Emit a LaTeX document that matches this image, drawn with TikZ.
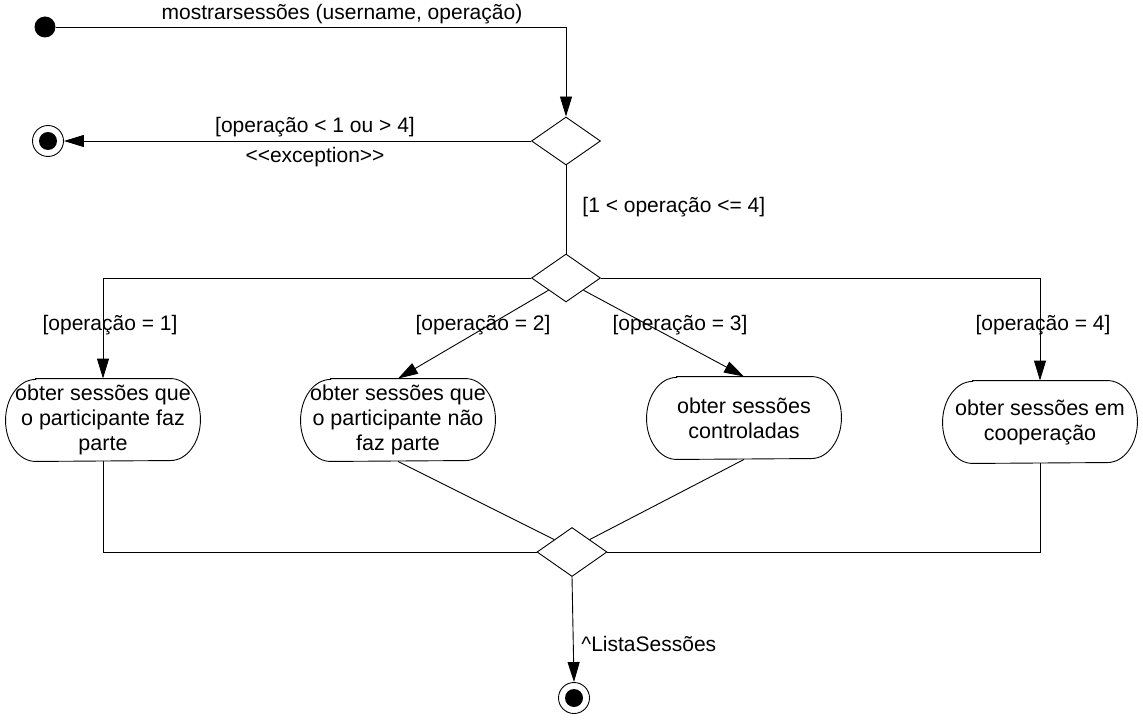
\documentclass[tikz,border=0pt]{standalone}
\usepackage{fontspec}
\setmainfont{Liberation Sans}
\usetikzlibrary{shapes.geometric,arrows.meta,calc}
\begin{document}
\begin{tikzpicture}[x=1pt,y=-1pt,
  font=\fontsize{21}{25}\selectfont,
  line width=0.9pt,
  dec/.style={diamond, draw, inner sep=0pt, minimum width=69pt, minimum height=48pt},
  act/.style={align=center, inner sep=0pt, minimum width=194pt, minimum height=82pt,
    font=\fontsize{21.5}{25}\selectfont},
  actborder/.style={draw},
  arr/.style={-{Triangle[length=20pt,width=12pt]}},
  initial/.style={circle, fill, minimum size=21pt, inner sep=0pt},
  final/.style={circle, draw, minimum size=31pt, inner sep=0pt,
    path picture={\fill (path picture bounding box.center) circle (9pt);}},
  lbl/.style={inner sep=0pt}
]
\useasboundingbox (0,0) rectangle (1143,722);
\node[initial] (s) at (45,27) {};
\coordinate (c1) at (566,27);
\node[dec] (d1) at (566,141) {};
\node[final] (f1) at (48,141) {};
\node[dec] (d2) at (566,278) {};
\coordinate (c2) at (103,278);
\coordinate (c3) at (1040,278);
\node[act] (a1) at (103,420) {obter sessões que\\o participante faz\\parte};
\node[act] (a2) at (398,420) {obter sessões que\\o participante não\\faz parte};
\node[act] (a3) at (744,418) {obter sessões\\controladas};
\node[act] (a4) at (1040,422) {obter sessões em\\cooperação};
\foreach \n in {a1,a2,a3,a4}
  \draw[actborder] ([xshift=30pt]\n.north west) -- ([xshift=-30pt]\n.north east)
    arc[start angle=90, end angle=-90, x radius=30pt, y radius=41pt]
    -- ([xshift=30pt]\n.south west)
    arc[start angle=270, end angle=90, x radius=30pt, y radius=41pt] -- cycle;
\node[dec, minimum width=70pt, minimum height=49pt] (d3) at (572,552) {};
\coordinate (c4) at (103,552);
\coordinate (c5) at (1040,552);
\node[final] (f2) at (574,698) {};

\draw[arr] (s) -- (c1) -- (d1.north);
\draw[arr] (d1.west) -- (f1.east);
\draw (d1.south) -- (d2.north);
\draw[arr] (d2.west) -- (c2) -- (a1.north);
\draw[arr] (d2.east) -- (c3) -- (a4.north);
\draw[arr] (d2.south west) -- (a2.north);
\draw[arr] (d2.south east) -- (a3.north);
\draw (a1.south) -- (c4) -- (d3.west);
\draw (a4.south) -- (c5) -- (d3.east);
\draw (a2.south) -- (d3.north west);
\draw (a3.south) -- (d3.north east);
\draw[arr] (d3.south) -- (f2.north);

\node[lbl] at (342,14) {mostrarsessões (username, operação)};
\node[lbl] at (315,127) {[operação < 1 ou > 4]};
\node[lbl] at (315,157) {<\kern0pt<exception>\kern0pt>};
\node[lbl, anchor=west] at (582,207) {[1 < operação <= 4]};
\node[lbl] at (110,325) {[operação = 1]};
\node[lbl] at (483,325) {[operação = 2]};
\node[lbl] at (680,325) {[operação = 3]};
\node[lbl] at (1043,325) {[operação = 4]};
\node[lbl, anchor=west] at (581,644) {\textasciicircum ListaSessões};
\end{tikzpicture}
\end{document}
